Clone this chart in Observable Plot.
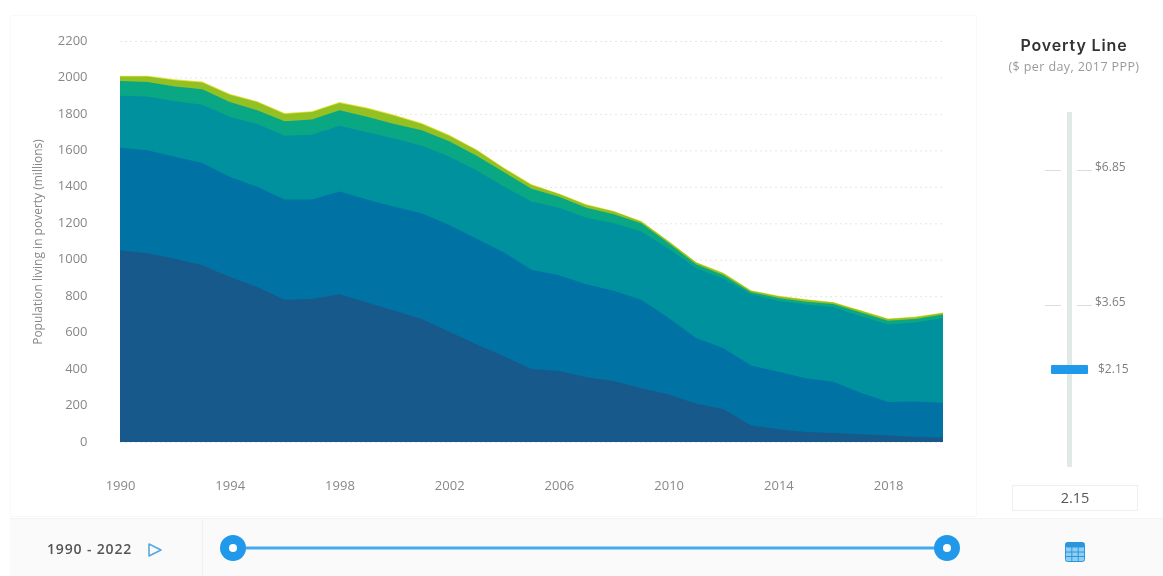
<!DOCTYPE html>
<html>
<head>
<meta charset="utf-8">
<script src="https://cdn.jsdelivr.net/npm/d3@7"></script>
<script src="https://cdn.jsdelivr.net/npm/@observablehq/plot@0.6"></script>
<style>
html,body{margin:0;padding:0;background:#fff;}
body{width:1163px;height:576px;position:relative;overflow:hidden;font-family:"Open Sans",sans-serif;filter:blur(0.45px);}
.abs{position:absolute;}
#card{left:10px;top:15px;width:967px;height:502px;border:1px solid #f9f9f9;box-sizing:border-box;}
#chart{left:0;top:0;}
#bar{left:10px;top:518px;width:1153px;height:58px;background:#fafafa;border-top:1px solid #f4f4f4;box-sizing:border-box;}
.lbl{color:#7f7f7f;font-size:12px;line-height:14px;white-space:nowrap;}
.tk{height:1px;background:#dcdcdc;}
</style>
</head>
<body>
<div class="abs" id="card"></div>
<div class="abs" id="bar"></div>
<div class="abs" id="chart"></div>

<div class="abs" style="left:974px;width:200px;top:35px;text-align:center;font:600 16px/20px Inter,sans-serif;letter-spacing:0.85px;color:#333;">Poverty Line</div>
<div class="abs" style="left:974px;width:200px;top:59px;text-align:center;font-size:12.5px;letter-spacing:0.4px;line-height:16px;color:#9a9a9a;">($ per day, 2017 PPP)</div>

<div class="abs" style="left:1067px;top:112px;width:5px;height:355px;background:#e1e8e8;"></div>
<div class="abs tk" style="left:1045px;top:170px;width:16px;"></div>
<div class="abs tk" style="left:1077px;top:170px;width:15px;"></div>
<div class="abs lbl" style="left:1095px;top:160px;">$6.85</div>
<div class="abs tk" style="left:1045px;top:305px;width:16px;"></div>
<div class="abs tk" style="left:1077px;top:305px;width:15px;"></div>
<div class="abs lbl" style="left:1095px;top:295px;">$3.65</div>
<div class="abs" style="left:1051px;top:365px;width:37px;height:9px;background:#2199ea;border-radius:1px;"></div>
<div class="abs lbl" style="left:1098px;top:362px;">$2.15</div>
<div class="abs" style="left:1012px;top:485px;width:126px;height:26px;border:1px solid #eeeeee;box-sizing:border-box;text-align:center;font-size:14.5px;line-height:24px;color:#555;">2.15</div>

<div class="abs" style="left:202px;top:519px;width:1px;height:57px;background:#f0f0f0;"></div>
<div class="abs" style="left:47px;top:539px;font-weight:600;font-size:14px;letter-spacing:0.85px;line-height:20px;color:#555;white-space:nowrap;">1990 - 2022</div>
<svg class="abs" style="left:147px;top:542px;" width="16" height="16"><path d="M2 2 L14 8 L2 14 Z" fill="none" stroke="#55a9de" stroke-width="1.6" stroke-linejoin="round"/></svg>
<svg class="abs" style="left:218px;top:530px;" width="745" height="36">
  <line x1="15" x2="729" y1="18" y2="18" stroke="#45a9ee" stroke-width="3"/>
  <circle cx="15" cy="18" r="13" fill="#2199ea"/><circle cx="15" cy="18" r="4" fill="#fff"/>
  <circle cx="729" cy="18" r="13" fill="#2199ea"/><circle cx="729" cy="18" r="4" fill="#fff"/>
</svg>
<svg class="abs" style="left:1065px;top:542px;" width="20" height="20">
  <rect x="0.5" y="0.5" width="19" height="19" rx="2" fill="#8fcdf3" stroke="#2a97dd"/>
  <rect x="0.5" y="0.5" width="19" height="5" rx="2" fill="#2a97dd"/>
  <path d="M0.5 10H19.5M0.5 14.5H19.5M6.8 5V19.5M13.2 5V19.5" stroke="#2a97dd" stroke-width="1"/>
</svg>

<script>
const years = d3.range(1990, 2021);
const yTicks = d3.range(0, 2201, 200);
const xTicks = [1990,1994,1998,2002,2006,2010,2014,2018];
const band1Top = [1050,1035,1005,970,905,850,780,785,810,765,720,675,605,535,470,400,390,355,335,295,260,210,180,90,70,55,50,42,35,28,25];
const band2Top = [1615,1600,1565,1530,1455,1400,1330,1330,1375,1330,1290,1255,1190,1115,1040,945,915,865,830,780,680,570,515,420,385,350,330,270,220,222,215];
const band3Top = [1900,1895,1870,1850,1785,1745,1680,1685,1735,1700,1665,1625,1565,1490,1400,1320,1285,1230,1200,1155,1060,955,895,810,775,755,740,690,645,655,680];
const band4Top = [1980,1975,1950,1935,1865,1820,1760,1770,1820,1785,1745,1710,1650,1570,1480,1390,1345,1285,1250,1200,1090,975,915,822,790,770,757,710,665,675,700];
const band5Top = [2005,2005,1985,1972,1905,1865,1800,1810,1860,1830,1790,1745,1680,1600,1500,1410,1360,1300,1265,1210,1100,985,925,830,800,780,765,720,675,685,708];
const band6Top = [2010,2010,1990,1978,1910,1870,1805,1815,1865,1835,1795,1750,1685,1605,1505,1414,1364,1304,1268,1213,1103,988,928,833,803,783,768,723,678,688,711];
const bands = [
  {top: band6Top, fill: "#e8e23c"},
  {top: band5Top, fill: "#93c023"},
  {top: band4Top, fill: "#0aa785"},
  {top: band3Top, fill: "#00919f"},
  {top: band2Top, fill: "#0072a3"},
  {top: band1Top, fill: "#17598a"}
];
const chart = Plot.plot({
  width: 980, height: 520,
  marginLeft: 120, marginRight: 37, marginTop: 41, marginBottom: 78,
  style: {background: "transparent", fontFamily: "'Open Sans',sans-serif", fontSize: "12px", color: "#888888"},
  x: {domain: [1990, 2020]},
  y: {domain: [0, 2200]},
  marks: [
    Plot.gridY(yTicks, {stroke: "#dcdcdc", strokeOpacity: 0.7, strokeDasharray: "2,3"}),
    ...bands.map(b => Plot.areaY(years, {x: d => d, y1: 0, y2: (d, i) => b.top[i], fill: b.fill})),
    Plot.axisX({ticks: xTicks, tickFormat: d => String(d), tickSize: 0, tickPadding: 38, fontSize: 13, label: null}),
    Plot.axisY({ticks: yTicks, tickFormat: d => String(d), tickSize: 0, tickPadding: 33, fontSize: 13, dy: -1, label: null}),
    Plot.axisY({ticks: [], label: "Population living in poverty (millions)", labelAnchor: "center", labelOffset: 87, labelArrow: "none", fontSize: 12})
  ]
});
document.getElementById("chart").appendChild(chart);
</script>
</body>
</html>
